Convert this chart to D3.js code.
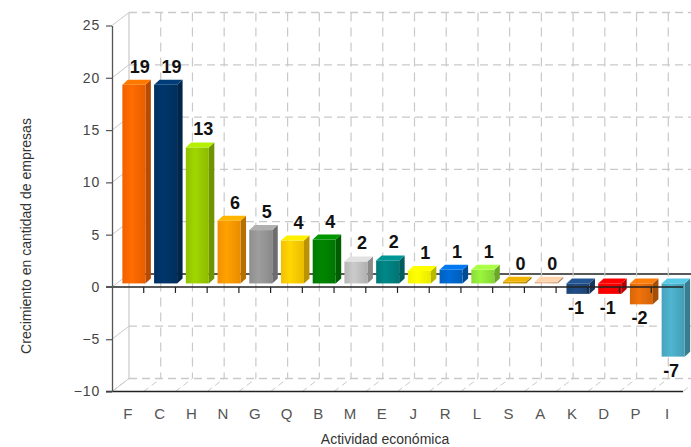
<!DOCTYPE html>
<html>
<head>
<meta charset="utf-8">
<script src="https://cdn.jsdelivr.net/npm/d3@7"></script>
<style>
  html, body { margin: 0; padding: 0; background: #fff; }
  svg { display: block; font-family: "Liberation Sans", Arial, sans-serif; }
</style>
</head>
<body>
<svg id="chart" width="691" height="447"></svg>
<script>
const categories = ["F","C","H","N","G","Q","B","M","E","J","R","L","S","A","K","D","P","I"];
const values = [19, 19, 13, 6, 5.1, 4.1, 4.2, 2.1, 2.2, 1.2, 1.3, 1.3, 0.15, 0.15, -1, -1, -2, -7];
const labels = ["19","19","13","6","5","4","4","2","2","1","1","1","0","0","-1","-1","-2","-7"];
const colors = ["#FF6600","#003366","#99CC00","#FF9900","#969696","#FFCC00","#008000","#C0C0C0","#008080",
                "#FFFF00","#0066CC","#92E83A","#CC9900","#E8B492","#1F497D","#FF0000","#E46C0A","#4BACC6"];
const yTicks = [-10, -5, 0, 5, 10, 15, 20, 25];
const xTitle = "Actividad económica";
const yTitle = "Crecimiento en cantidad de empresas";

(function () {
const svg = d3.select("#chart");
const pLeft = 112, pRight = 683, pTop = 25.5, pBottom = 391.5;
const y = d3.scaleLinear().domain([-10, 25]).range([pBottom, pTop]);
const x = d3.scaleBand().domain(categories).range([pLeft, pRight]).padding(0);
const bw = x.bandwidth();
const DX = 17, DY = -13;
const gridColor = "#c9c9c9";

const g = svg.append("g");
yTicks.forEach(t => {
  g.append("line")
    .attr("x1", pLeft + DX).attr("x2", pRight + DX)
    .attr("y1", y(t) + DY).attr("y2", y(t) + DY)
    .attr("stroke", t === 0 ? "#222" : gridColor)
    .attr("stroke-width", t === 0 ? 1.5 : 1.3)
    .attr("stroke-dasharray", t === 0 ? null : "8,5");
  g.append("line")
    .attr("x1", pLeft).attr("y1", y(t))
    .attr("x2", pLeft + DX).attr("y2", y(t) + DY)
    .attr("stroke", gridColor).attr("stroke-width", 1);
});
const bounds = d3.range(categories.length + 1).map(i => pLeft + i * bw);
bounds.forEach((bx, i) => {
  g.append("line")
    .attr("x1", bx + DX).attr("x2", bx + DX)
    .attr("y1", y(25) + DY).attr("y2", y(-10) + DY)
    .attr("stroke", gridColor).attr("stroke-width", 1.2)
    .attr("stroke-dasharray", i === 0 ? null : "9,6");
  g.append("line")
    .attr("x1", bx).attr("y1", y(-10))
    .attr("x2", bx + DX).attr("y2", y(-10) + DY)
    .attr("stroke", gridColor).attr("stroke-width", 1)
    .attr("stroke-dasharray", "6,4");
});

// bars with gradient front faces
const defs = svg.append("defs");
const fx = 6, fy = -3.5, bdx = 5.5, bdy = -5, barW = 23;
const bars = svg.append("g");
categories.forEach((c, i) => {
  const v = values[i];
  const col = d3.color(colors[i]);
  const gid = "grad" + i;
  const lg = defs.append("linearGradient").attr("id", gid).attr("x1", 0).attr("x2", 1).attr("y1", 0).attr("y2", 0);
  lg.append("stop").attr("offset", "0%").attr("stop-color", col.darker(0.15));
  lg.append("stop").attr("offset", "40%").attr("stop-color", col.brighter(0.15));
  lg.append("stop").attr("offset", "100%").attr("stop-color", col.darker(0.25));
  const x0 = x(c) + bw / 2 + fx - barW / 2;
  const yT = y(Math.max(v, 0)) + fy;
  const yB = y(Math.min(v, 0)) + fy;
  bars.append("polygon")
    .attr("points", [[x0 + barW, yT], [x0 + barW + bdx, yT + bdy], [x0 + barW + bdx, yB + bdy], [x0 + barW, yB]].join(" "))
    .attr("fill", col.darker(0.9));
  bars.append("rect")
    .attr("x", x0).attr("y", yT).attr("width", barW).attr("height", Math.max(yB - yT, 0.5))
    .attr("fill", `url(#${gid})`);
  bars.append("polygon")
    .attr("points", [[x0, yT], [x0 + bdx, yT + bdy], [x0 + barW + bdx, yT + bdy], [x0 + barW, yT]].join(" "))
    .attr("fill", col.brighter(0.45));
});

svg.append("line")
  .attr("x1", pLeft - 6).attr("x2", pRight)
  .attr("y1", y(0)).attr("y2", y(0))
  .attr("stroke", "#222").attr("stroke-width", 1.5);
bounds.slice(1, -1).forEach(bx => {
  svg.append("line")
    .attr("x1", bx).attr("x2", bx)
    .attr("y1", y(0)).attr("y2", y(0) + 6)
    .attr("stroke", "#222").attr("stroke-width", 1.2);
});
svg.append("line")
  .attr("x1", pLeft - 6).attr("x2", pRight)
  .attr("y1", y(-10)).attr("y2", y(-10))
  .attr("stroke", "#222").attr("stroke-width", 1.5);

const yAxis = svg.append("g")
  .attr("transform", `translate(${pLeft},0)`)
  .call(d3.axisLeft(y).tickValues(yTicks).tickSize(6).tickSizeOuter(0).tickPadding(6));
yAxis.select(".domain").attr("stroke", "#555").attr("stroke-width", 1.3);
yAxis.selectAll(".tick line").attr("stroke", "#555").attr("stroke-width", 1.2);
yAxis.selectAll(".tick text")
  .attr("fill", "#444").style("font-size", "14px").style("letter-spacing", "0.8px")
  .style("font-family", "'Liberation Sans', Arial, sans-serif");

const xAxis = svg.append("g")
  .attr("transform", `translate(0,${y(-10)})`)
  .call(d3.axisBottom(x).tickSize(0).tickPadding(17));
xAxis.select(".domain").remove();
xAxis.selectAll(".tick text")
  .attr("fill", "#555").style("font-size", "15px")
  .style("font-family", "'Liberation Sans', Arial, sans-serif");

const lab = svg.append("g")
  .style("font-size", "18px").style("font-weight", "bold").attr("fill", "#111")
  .style("font-family", "'Liberation Sans Narrow', 'Liberation Sans', Arial, sans-serif")
  .attr("text-anchor", "middle");
categories.forEach((c, i) => {
  const v = values[i];
  const cx = x(c) + bw / 2;
  if (v >= 0) {
    lab.append("text").attr("x", cx + 12).attr("y", y(v) + fy - 12).text(labels[i]);
  } else {
    lab.append("text").attr("x", cx + 4).attr("y", y(v) + fy + 20).text(labels[i]);
  }
});

svg.append("text")
  .attr("x", 385).attr("y", 444).attr("text-anchor", "middle")
  .attr("fill", "#333").style("font-size", "14px").text(xTitle);
svg.append("text")
  .attr("transform", "translate(31,236) rotate(-90)").attr("text-anchor", "middle")
  .attr("fill", "#333").style("font-size", "14px").text(yTitle);
})();
</script>
</body>
</html>
